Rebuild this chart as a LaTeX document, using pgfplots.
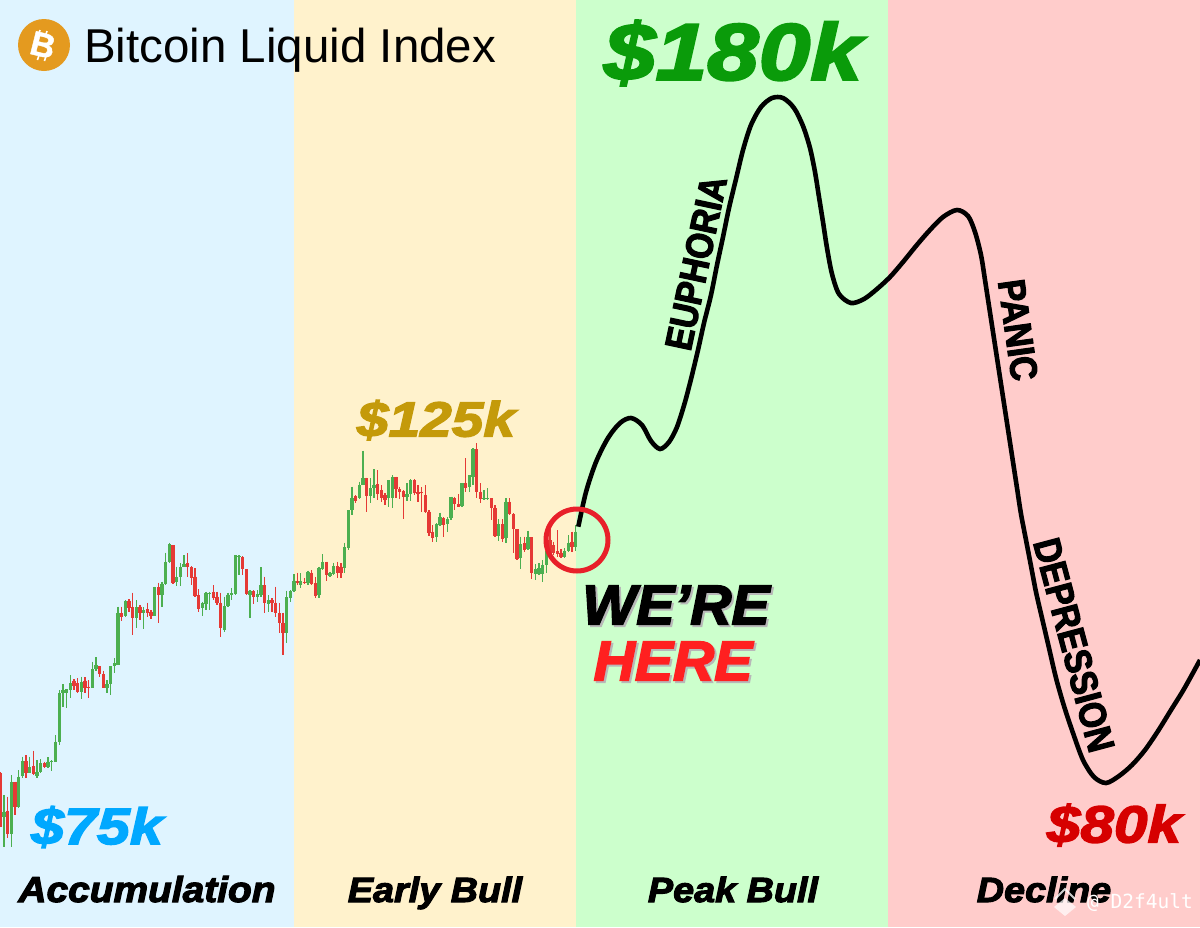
\documentclass[border=0pt]{standalone}
\usepackage{fontspec}
\usepackage{pgfplots}
\usepackage{pgfplotstable}
\pgfplotsset{compat=1.18}
\setmainfont{Liberation Sans}
\setmonofont{DejaVu Sans Mono}
\newfontfamily\heavy{Liberation Sans}[UprightFont=* Bold Italic,FakeBold=3,FakeStretch=1.16]
\newfontfamily\heavym{Liberation Sans}[UprightFont=* Bold Italic,FakeBold=3,FakeStretch=1.08]
\newfontfamily\heavyn{Liberation Sans}[UprightFont=* Bold Italic,FakeBold=3,FakeStretch=1.02]
\newfontfamily\capsf{Liberation Sans}[UprightFont=* Bold,FakeBold=3,FakeStretch=0.88]
\newfontfamily\iconf{Liberation Sans}[UprightFont=* Bold,FakeBold=1.2]
\definecolor{bandA}{HTML}{DFF4FF}
\definecolor{bandB}{HTML}{FFF2CC}
\definecolor{bandC}{HTML}{CCFFCC}
\definecolor{bandD}{HTML}{FFCCCB}
\definecolor{cup}{HTML}{4CAF50}
\definecolor{cdn}{HTML}{E53935}
% x  hi  top  bot  lo  (picture rows, y grows downwards)
\pgfplotstableread{
x hi top bot lo
4 795 811.7 816.7 846.7
11.3 775 781.7 834 846.7
18.7 770 776.7 807.3 808.3
22.3 756.7 760.7 775.7 778.3
29.7 756.7 766.7 773.3 773.3
37 760 771.7 776 778.3
40.7 759.3 763.3 771.7 772.7
48 757.3 761.7 767.3 768.3
51.7 760 760.7 761.7 770.7
55.7 735 741.7 761.7 761.7
59.3 690 693.3 741.7 745
63 684 690 693.3 706.7
66.7 689.3 689.3 692.7 708.3
70.3 675 683.3 690 698.3
81.3 676.7 681.7 692.3 699.3
92.3 661.7 669.3 688.3 688.3
96 657.3 665.3 669.3 670.7
107 680 684 687.7 693.3
110.7 666 666 684 695
114.3 658.3 663.3 666 673.3
118 606.7 613.3 665 665
125.3 600 600.7 616 616.7
136.3 600 607.3 618.3 628.3
143.7 607.3 610 612.7 629.3
154.7 586.7 587.3 616 616
162 581.7 584 595 606.7
165.7 552.7 561.7 584 585
169.3 542.7 544 561.7 563.3
176.7 566.7 577.3 581.7 586
180.3 563.3 566.7 576.7 586
184 555 564 566.7 567.3
202.3 601.7 603.3 608.3 616
206 591.7 593.3 604 610
209.7 591.7 592.7 594 610
224.3 596.7 606 630 631.7
228 592.7 595 606 607.3
231.7 588.3 593.3 595 600
235.3 555 555 594 595
239 555 556 557.3 575
250 590 590.7 595 618.3
257.3 590 594 596.7 601.7
261 567.3 585 595 596.7
268.3 595 600 604 611.7
286.7 590.7 597.3 633.3 643.3
290.3 590 590.7 598.3 601.7
294 574 580.7 590.7 591.7
300.7 573.3 580.7 585 588.3
308 570.7 571.7 582.7 585
319 566.7 568.3 595 598.3
322.7 554 561.7 569.3 570
330 571.7 573.3 575.7 576.7
333.7 562.7 566 574 575
344.7 542.7 547.3 568.3 573.3
348.3 510 510 548.3 550
352 486.7 498.3 510 515
359.3 481.7 485 498.3 499.3
363 450.7 478.3 485 485
370.3 478.3 488.3 496 502.7
374 469.3 485 488.3 498.3
388.7 480 480 498.3 506.7
392.3 475 476.7 498.3 508.3
407 483.3 494 496.7 500.7
410.7 479.3 480 494 500.7
436.3 523.3 524 537.3 541.7
440 512.7 517.3 525 526
447.3 517.3 519.3 524 531.7
451 496.7 496.7 518.3 520
462 483.3 483.3 506 506.7
469.3 475 475 487.3 491.7
473 448.3 449.3 476.7 485
484 490 498.3 499.3 500
487.7 488.3 498.3 499.3 500
498.7 519.3 524 536 540.7
506 498.3 501.7 538.3 543.3
520.7 536.7 544 558.3 569.3
528 530.7 537.3 549.3 550
535.3 564 569.3 574 580
539 563.3 568.3 574 575
542.7 560 565 574 581.7
546.3 545 550.7 565 573.3
564.7 548.3 550.7 557.3 558.3
568.3 535 542.7 550.7 551.7
575.7 525 531.7 546.7 550.7
}\greenT
\pgfplotstableread{
x hi top bot lo
0 772 773 827 827
7.7 796.7 810.7 834 838.3
15 781.7 781.7 807.3 815
26 755 760.7 773.3 778.3
33.3 750.7 766 774 775
44.3 761.7 763.3 767.3 768.3
74 679.3 680.7 686 690
77.7 678.3 683.3 692.3 693.3
85 677.3 680.7 688.3 693.3
88.7 680 686.7 688.3 698.3
99.7 666 666 674 676.7
103.3 670.7 674 687.7 688.3
121.7 606.7 613.3 616.7 620.7
129 599.3 600.7 608.3 611.7
132.7 592.7 607.3 618.3 635
140 605 606.7 612.7 620
147.3 602.7 609.3 613.3 616.7
151 610 611.7 616 619.3
158.3 582.7 587.3 595 623.3
173 545 545 582.7 584
187.7 553.3 563.3 567.3 576.7
191.3 566 567.3 578.3 585
195 568.3 576.7 596 596.7
198.7 589.3 595 609.3 611.7
213.3 585 591.7 598.3 600
217 591.7 596.7 603.3 605
220.7 592.7 602.7 628.3 637.3
242.7 556 556.7 569.3 575
246.3 569.3 569.3 594 595
253.7 590 590.7 596.7 604
264.7 576.7 585 603.3 612.7
272 598.3 600 603.3 611.7
275.7 586.7 602.7 613.3 616.7
279.3 603.3 613.3 623.3 633.3
283 612.7 623.3 633.3 655
297.7 572.7 581 583.3 585
304.3 578.3 581.7 583.3 584
311.7 570 572.7 584 585
315.3 576.7 583.3 596 598.3
326.3 561.7 561.7 575 580.7
337.3 561.7 566 573.3 578.3
341 563.3 566.7 572.7 578.3
355.7 495 496 500.7 502.7
366.7 477.7 478.3 496 511.7
377.7 470 484 494 500
381.3 485 490 498.3 501.7
385 493.3 495 500 505
396 476.7 477.3 489.3 498.3
399.7 486.7 489.3 491.7 499.3
403.3 490 490.7 496.7 519.3
414.3 479.3 480 493.3 495
418 485 492.3 494 501.7
421.7 487.3 492.3 493.3 511.7
425.3 485 495 511.7 513.3
429 510 511.7 532.7 536
432.7 525 531.7 538.3 541.7
443.7 517.3 518.3 525 536.7
454.7 496.7 498.3 504 510
458.3 494 504 506.7 506.7
465.7 458.3 483.3 488.3 491.7
476.7 443 449.3 491.7 498.3
480.3 483.3 491.7 499.3 503.3
491.3 498.3 498.3 508.3 520
495 505 508.3 536 536.7
502.3 519.3 524 539.3 541.7
509.7 498.3 501.7 514 515
513.3 513.3 514 529.3 553.3
517 529.3 529.3 559.3 560
524.3 536.7 543.3 550 551.7
531.7 537.3 537.3 572.7 579.3
550 529.3 540 552.7 555
553.7 541.7 545 552.7 555
557.3 530 550.7 554 557.3
561 549.3 552.7 557.3 558.3
572 531.7 541.7 546.7 551.7
}\redT
\begin{document}
\begin{tikzpicture}
\begin{axis}[
  scale only axis, width=1200pt, height=927pt,
  xmin=0, xmax=1200, ymin=0, ymax=927, y dir=reverse,
  hide axis, clip=true,
]
% bands
\addplot[fill=bandA,draw=none,forget plot] coordinates {(0,0)(294,0)(294,927)(0,927)} --cycle;
\addplot[fill=bandB,draw=none,forget plot] coordinates {(294,0)(576,0)(576,927)(294,927)} --cycle;
\addplot[fill=bandC,draw=none,forget plot] coordinates {(576,0)(888,0)(888,927)(576,927)} --cycle;
\addplot[fill=bandD,draw=none,forget plot] coordinates {(888,0)(1200,0)(1200,927)(888,927)} --cycle;
% candles: wicks then bodies
\addplot[draw=none,mark=none,forget plot,error bars/.cd,y dir=plus,y explicit,error mark=none,error bar style={draw=cup,line width=1.2pt}]
  table[x=x,y=hi,y error plus expr=\thisrow{lo}-\thisrow{hi}] {\greenT};
\addplot[draw=none,mark=none,forget plot,error bars/.cd,y dir=plus,y explicit,error mark=none,error bar style={draw=cup,line width=3.2pt}]
  table[x=x,y=top,y error plus expr=\thisrow{bot}-\thisrow{top}] {\greenT};
\addplot[draw=none,mark=none,forget plot,error bars/.cd,y dir=plus,y explicit,error mark=none,error bar style={draw=cdn,line width=1.2pt}]
  table[x=x,y=hi,y error plus expr=\thisrow{lo}-\thisrow{hi}] {\redT};
\addplot[draw=none,mark=none,forget plot,error bars/.cd,y dir=plus,y explicit,error mark=none,error bar style={draw=cdn,line width=3.2pt}]
  table[x=x,y=top,y error plus expr=\thisrow{bot}-\thisrow{top}] {\redT};
% projected path
\addplot[black,line width=4.6pt,smooth,forget plot] coordinates {
(578.3,526.7)(586,492)(596,462)(608,438)(620,423)(631,418)(642,425)(651,441)(660,449)(669,442)(677,427)(685,402)(692,375)(698,350)(704,323)(711,295)(717,265)(723,237)(729,208)(736,179)(743,150)(751,125)(761,107)(772,98)(783,98)(794,108)(803,126)(810,148)(815,172)(819,197)(823,222)(827,248)(832,274)(839,294)(851,303)(864,299)(877,289)(890,277)(903,262)(916,246)(929,231)(943,217)(957,210)(968,216)(975,232)(981,255)(985,280)(989,306)(993,332)(997,358)(1001,384)(1005,410)(1009,436)(1013,462)(1017,488)(1021,514)(1026,540)(1031,566)(1036,592)(1042,618)(1049,648)(1056,678)(1064,706)(1073,733)(1083,760)(1094,777)(1106,783)(1119,776)(1132,765)(1145,750)(1158,731)(1171,710)(1184,689)(1200,660)};
% circle
\draw[color={rgb,255:red,232;green,32;blue,42},line width=5pt] (axis cs:577,540) circle[radius=31pt];
% title and icon
\fill[color={rgb,255:red,228;green,154;blue,31}] (axis cs:44,45) circle[radius=26pt];
\draw[white,line width=1.6pt] (axis cs:40,30)--(axis cs:38.5,35) (axis cs:47,31)--(axis cs:45.5,36) (axis cs:39,55)--(axis cs:37.5,60) (axis cs:46,56)--(axis cs:44.5,61);
\node[white,rotate=-14,inner sep=0pt] at (axis cs:43,45) {\iconf\fontsize{34}{34}\selectfont B};
\node[anchor=base west,inner sep=0pt] at (axis cs:84,62) {\fontsize{47.5}{47.5}\selectfont Bitcoin Liquid Index};
% prices
\node[color={rgb,255:red,10;green,155;blue,10},inner sep=0pt] at (axis cs:733,53) {\heavy\fontsize{80}{80}\selectfont \$180k};
\node[color={rgb,255:red,196;green,154;blue,10},inner sep=0pt] at (axis cs:436,420) {\heavy\fontsize{49}{49}\selectfont \$125k};
\node[color={rgb,255:red,0;green,168;blue,255},inner sep=0pt] at (axis cs:97,827) {\heavy\fontsize{51}{51}\selectfont \$75k};
\node[color={rgb,255:red,214;green,0;blue,0},inner sep=0pt] at (axis cs:1114,825) {\heavy\fontsize{52}{52}\selectfont \$80k};
% phases
\node[anchor=base,inner sep=0pt] at (axis cs:147,902) {\heavym\fontsize{36}{36}\selectfont Accumulation};
\node[anchor=base,inner sep=0pt] at (axis cs:435,902) {\heavym\fontsize{35}{35}\selectfont Early Bull};
\node[anchor=base,inner sep=0pt] at (axis cs:733,902) {\heavym\fontsize{35}{35}\selectfont Peak Bull};
\node[anchor=base,inner sep=0pt] at (axis cs:1044,902) {\heavym\fontsize{35}{35}\selectfont Decline};
% here
\node[black!28,inner sep=0pt] at (axis cs:678,607) {\heavyn\fontsize{56}{56}\selectfont WE’RE};
\node[black,inner sep=0pt] at (axis cs:676,605) {\heavyn\fontsize{56}{56}\selectfont WE’RE};
\node[black!28,inner sep=0pt] at (axis cs:675,663) {\heavyn\fontsize{56}{56}\selectfont HERE};
\node[color={rgb,255:red,255;green,32;blue,32},inner sep=0pt] at (axis cs:673,661) {\heavyn\fontsize{56}{56}\selectfont HERE};
% phase words on the curve
\node[rotate=78,inner sep=0pt] at (axis cs:696,263) {\capsf\fontsize{38}{38}\selectfont EUPHORIA};
\node[rotate=-82,inner sep=0pt] at (axis cs:1018,330) {\capsf\fontsize{38}{38}\selectfont PANIC};
\node[rotate=-75,inner sep=0pt] at (axis cs:1074,645) {\capsf\fontsize{38}{38}\selectfont DEPRESSION};
% watermark
\draw[white,line width=2pt,opacity=.8] (axis cs:1055,899)--(axis cs:1065,889)--(axis cs:1075,899);
\fill[white,opacity=.7] (axis cs:1065,898)--(axis cs:1076,907)--(axis cs:1065,916)--(axis cs:1054,907)--cycle;
\node[white,anchor=base west,inner sep=0pt] at (axis cs:1087,908) {\ttfamily\fontsize{19.5}{19.5}\selectfont @ D2f4ult};
\end{axis}
\pgfresetboundingbox
\useasboundingbox (current axis.south west) rectangle (current axis.north east);
\end{tikzpicture}
\end{document}
